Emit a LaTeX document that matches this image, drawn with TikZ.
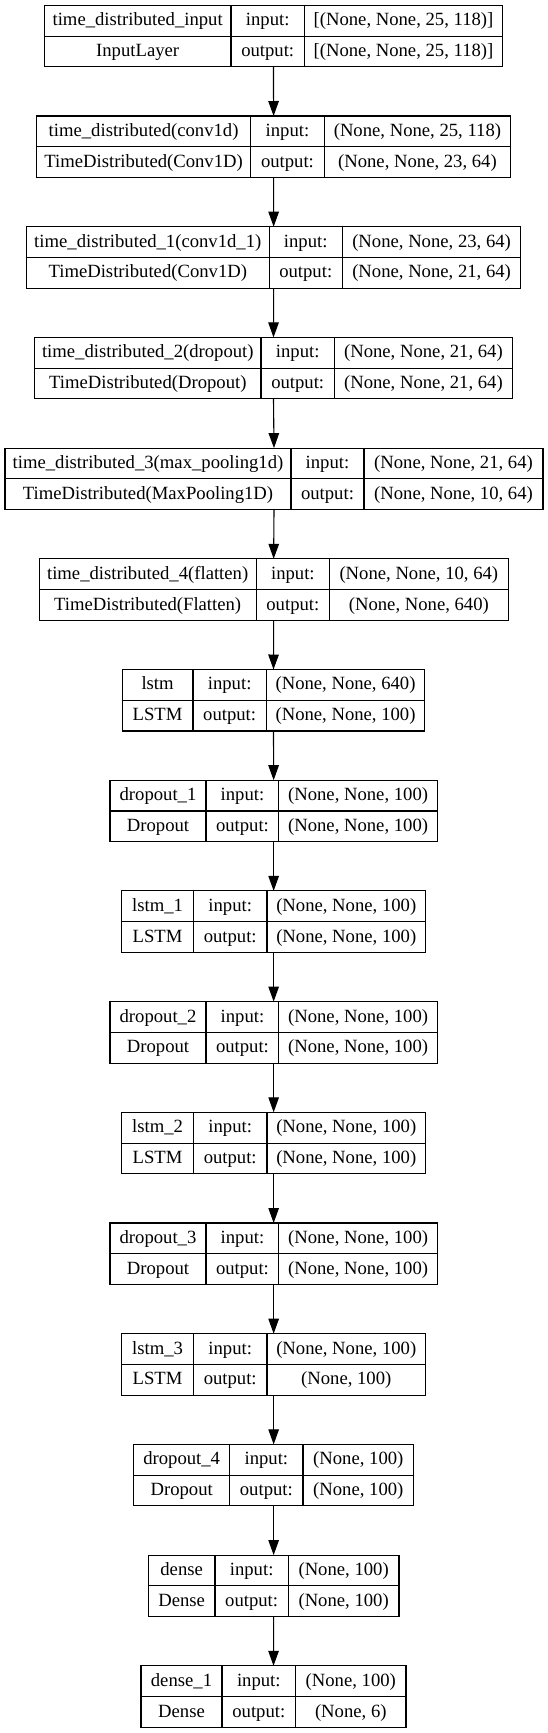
\documentclass[tikz,border=0pt]{standalone}
\usepackage{fontspec}
\setmainfont{Liberation Serif}
\usetikzlibrary{arrows.meta}
\tikzset{
  cell/.style={draw=black, line width=1.1pt, inner sep=0pt, outer sep=0pt,
    minimum height=30.75pt, anchor=north west,
    text height=14.2pt, text depth=4pt,
    font=\fontsize{18.67}{22}\selectfont},
  boxframe/.style={line width=1.1pt, inner sep=0pt, outer sep=0pt,
    minimum height=61.5pt, anchor=north west},
  arr/.style={draw=black, line width=1.1pt,
    -{Triangle[length=15pt, width=10.5pt]}}
}
% #1 index, #2..#5 x of left edge, two dividers, right edge, #6 name, #7 type, #8 input, #9 output
\newcommand\layerbox[9]{%
  \pgfmathsetmacro\lbty{-(5.3+110.7*(#1-1))}%
  \pgfmathsetmacro\lbyb{\lbty-30.75}%
  \pgfmathsetmacro\lbwa{#3-#2}%
  \pgfmathsetmacro\lbwb{#4-#3}%
  \pgfmathsetmacro\lbwc{#5-#4}%
  \pgfmathsetmacro\lbwt{#5-#2}%
  \node[boxframe, minimum width=\lbwt pt] (L#1) at (#2,\lbty) {};
  \node[cell, minimum width=\lbwa pt] (L#1-n) at (#2,\lbty) {#6};
  \node[cell, minimum width=\lbwa pt] (L#1-t) at (#2,\lbyb) {#7};
  \node[cell, minimum width=\lbwb pt] (L#1-il) at (#3,\lbty) {input:};
  \node[cell, minimum width=\lbwb pt] (L#1-ol) at (#3,\lbyb) {output:};
  \node[cell, minimum width=\lbwc pt] (L#1-iv) at (#4,\lbty) {#8};
  \node[cell, minimum width=\lbwc pt] (L#1-ov) at (#4,\lbyb) {#9};
}
\begin{document}
\begin{tikzpicture}[x=1pt, y=1pt]
\useasboundingbox[fill=white] (0,0) rectangle (548,-1733);
\layerbox{1}{44.3}{231}{304.4}{502.6}{time\_distributed\_input}{InputLayer}{[(None, None, 25, 118)]}{[(None, None, 25, 118)]}
\layerbox{2}{36.6}{250.6}{324.3}{510.6}{time\_distributed(conv1d)}{TimeDistributed(Conv1D)}{(None, None, 25, 118)}{(None, None, 23, 64)}
\layerbox{3}{26.5}{269.1}{342.4}{520.8}{time\_distributed\_1(conv1d\_1)}{TimeDistributed(Conv1D)}{(None, None, 23, 64)}{(None, None, 21, 64)}
\layerbox{4}{34.6}{261}{334.4}{512.4}{time\_distributed\_2(dropout)}{TimeDistributed(Dropout)}{(None, None, 21, 64)}{(None, None, 21, 64)}
\layerbox{5}{5}{291}{364}{543}{time\_distributed\_3(max\_pooling1d)}{TimeDistributed(MaxPooling1D)}{(None, None, 21, 64)}{(None, None, 10, 64)}
\layerbox{6}{39.1}{256.2}{329.5}{508.2}{time\_distributed\_4(flatten)}{TimeDistributed(Flatten)}{(None, None, 10, 64)}{(None, None, 640)}
\layerbox{7}{122.2}{193}{266.3}{424.8}{lstm}{LSTM}{(None, None, 640)}{(None, None, 100)}
\layerbox{8}{110}{206}{278.9}{437.3}{dropout\_1}{Dropout}{(None, None, 100)}{(None, None, 100)}
\layerbox{9}{121.8}{193.4}{267}{425.5}{lstm\_1}{LSTM}{(None, None, 100)}{(None, None, 100)}
\layerbox{10}{110}{206}{278.9}{437.3}{dropout\_2}{Dropout}{(None, None, 100)}{(None, None, 100)}
\layerbox{11}{121.8}{193.4}{267}{425.5}{lstm\_2}{LSTM}{(None, None, 100)}{(None, None, 100)}
\layerbox{12}{110}{206}{278.9}{437.3}{dropout\_3}{Dropout}{(None, None, 100)}{(None, None, 100)}
\layerbox{13}{121.8}{193.4}{267}{425.5}{lstm\_3}{LSTM}{(None, None, 100)}{(None, 100)}
\layerbox{14}{133.7}{229.7}{303}{413.6}{dropout\_4}{Dropout}{(None, 100)}{(None, 100)}
\layerbox{15}{148.3}{215}{288.3}{399}{dense}{Dense}{(None, 100)}{(None, 100)}
\layerbox{16}{141}{222}{295.6}{406}{dense\_1}{Dense}{(None, 100)}{(None, 6)}
\foreach \i [evaluate=\i as \j using int(\i+1)] in {1,...,15}
  \draw[arr] (L\i.south) -- (L\j.north);
\end{tikzpicture}
\end{document}
